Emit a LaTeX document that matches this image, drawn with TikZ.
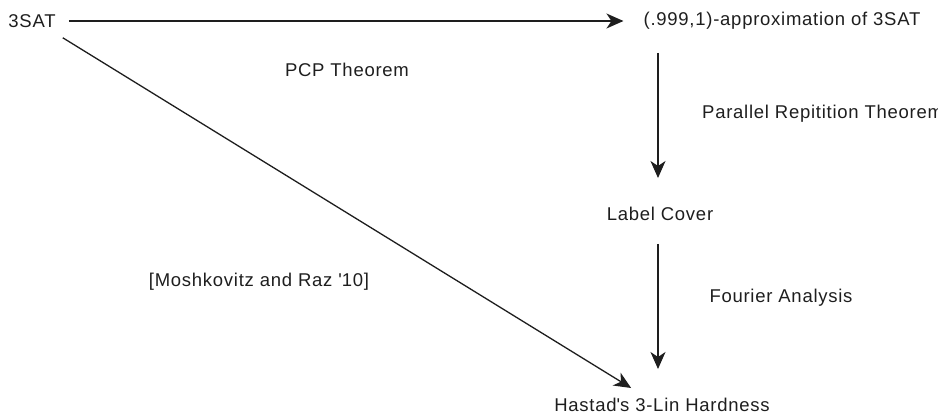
\documentclass[tikz,border=0pt]{standalone}
\usepackage{fontspec}
\setmainfont[LetterSpace=4]{Liberation Sans}
\usetikzlibrary{arrows.meta,calc}
\definecolor{ink}{HTML}{1E1E1E}
\tikzset{
  lbl/.style={inner sep=0pt, text=ink, font=\fontsize{18.5}{22}\selectfont},
  arr/.style={draw=ink, line width=1.3pt, -{Stealth[length=17pt,width=15pt,inset=5pt]}}
}
\begin{document}
\begin{tikzpicture}[x=1pt,y=-1pt]
\useasboundingbox (0,0) rectangle (938,415);
\node[lbl] (sat) at (32,21) {3SAT};
\node[lbl] (approx) at (782,21) {(.999,1)-approximation of 3SAT};
\node[lbl] (label) at (660,214) {Label Cover};
\node[lbl] (hastad) at (662,405) {Hastad\textquotesingle s 3-Lin Hardness};
\node[lbl] (pcp) at (347,70) {PCP Theorem};
\node[lbl, anchor=west] (par) at (702,114) {Parallel Repitition Theorem};
\node[lbl] (fourier) at (781,298) {Fourier Analysis};
\node[lbl] (mosh) at (259,282) {[Moshkovitz and Raz \textquotesingle 10]};
\draw[arr, shorten <=13pt, shorten >=20pt] (sat.east) -- (sat.east -| approx.west);
\draw[arr, shorten <=23pt, shorten >=29pt] ($(label.north |- approx.south)+(-2,0)$) -- ($(label.north)+(-2,0)$);
\draw[arr, shorten <=23pt, shorten >=29pt] ($(label.south)+(-2,0)$) -- ($(label.south |- hastad.north)+(-2,0)$);
\draw[arr] ($(sat.south east)+(7,10)$) -- ($(hastad.north west)+(77,-10)$);
\end{tikzpicture}
\end{document}
